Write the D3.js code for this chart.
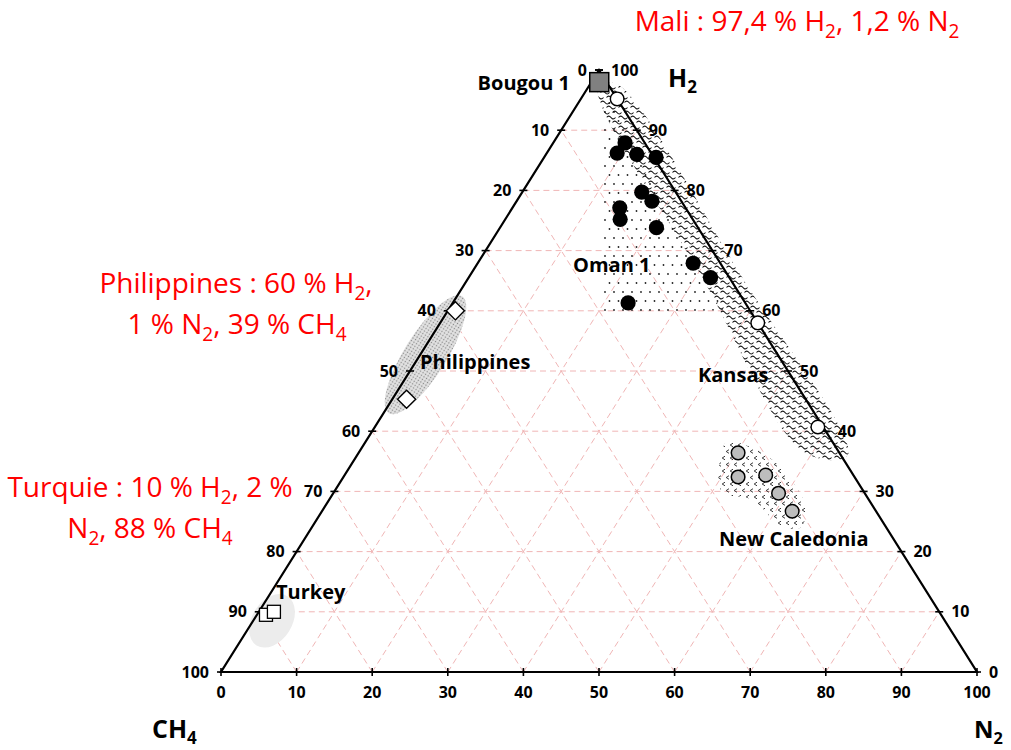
<!DOCTYPE html>
<html>
<head>
<meta charset="utf-8">
<script src="https://cdn.jsdelivr.net/npm/d3@7"></script>
<style>
  html, body { margin: 0; padding: 0; background: #fff; }
  svg { display: block; }
</style>
</head>
<body>
<svg id="chart" width="1011" height="750"></svg>
<script>
// Ternary diagram H2 – N2 – CH4 of natural hydrogen occurrences.
// Every composition is given as [H2 %, N2 %]; CH4 is the remainder to 100 %.

const tickValues = [0, 10, 20, 30, 40, 50, 60, 70, 80, 90, 100];
const gridValues = [10, 20, 30, 40, 50, 60, 70, 80, 90];

// Samples
const bougouSample = [[97.4, 1.2]];
const omanSamples = [
  [87.9, 9.5], [86.2, 9.3], [86.0, 12.0], [85.5, 14.8],
  [79.7, 15.8], [78.2, 17.9], [77.1, 14.2], [75.2, 15.2],
  [73.8, 20.7], [67.9, 28.5], [65.5, 32.0], [61.3, 23.2]
];
const kansasSamples = [[95.2, 4.8], [58.0, 42.0], [40.7, 58.6]];
const caledoniaSamples = [[36.4, 50.2], [32.4, 52.2], [32.7, 55.7], [29.7, 58.9], [26.7, 62.2]];
const philippinesSamples = [[60.0, 1.0], [45.3, 1.9]];
const turkeySamples = [[9.5, 1.2], [10.0, 2.0]];

// Outlines of the sample fields
const omanField = [[95.0, 3.0], [95.7, 3.5], [60.1, 36.5], [59.6, 20.7]];
const kansasField = [[97.0, 1.4], [97.7, 3.4], [65.1, 36.6], [36.0, 64.9], [36.5, 58.9], [65.1, 31.3]];
const caledoniaField = [
  [38.2, 47.8], [37.4, 51.3], [34.4, 56.5], [27.2, 63.8], [23.9, 64.6],
  [24.4, 61.7], [28.6, 56.0], [29.9, 51.3], [35.2, 48.4]
];
const philippinesFieldCenter = [52.7, 0.7];
const turkeyFieldCenter = [8.5, 2.5];

const svg = d3.select("#chart");

// Position scales: x follows N2 + H2/2, y follows H2.
const x = d3.scaleLinear().domain([0, 100]).range([221, 977]);
const y = d3.scaleLinear().domain([0, 100]).range([672, 70]);
const pt = (h2, n2) => [x(n2 + h2 / 2), y(h2)];

const tickFont = "'Liberation Sans Narrow', 'Arial Narrow', 'Open Sans', sans-serif";
const labelFont = "'Open Sans', 'DejaVu Sans', sans-serif";

// ---- patterns ----
const defs = svg.append("defs");

const pDots = defs.append("pattern").attr("id", "oman-dots")
  .attr("patternUnits", "userSpaceOnUse").attr("width", 9).attr("height", 18);
pDots.append("circle").attr("cx", 2).attr("cy", 4).attr("r", 0.9).attr("fill", "#222");
pDots.append("circle").attr("cx", 6.5).attr("cy", 13).attr("r", 0.9).attr("fill", "#222");

const pWave = defs.append("pattern").attr("id", "kansas-waves")
  .attr("patternUnits", "userSpaceOnUse").attr("width", 12).attr("height", 10);
pWave.append("path").attr("d", "M0.5,2.5 C2,0.6 3.5,0.6 5,2.5 S8,4.4 9.5,2.5")
  .attr("fill", "none").attr("stroke", "#111").attr("stroke-width", 1.1);
pWave.append("path").attr("d", "M-5.5,7.5 C-4,5.6 -2.5,5.6 -1,7.5 S2,9.4 3.5,7.5 M6.5,7.5 C8,5.6 9.5,5.6 11,7.5 S14,9.4 15.5,7.5")
  .attr("fill", "none").attr("stroke", "#111").attr("stroke-width", 1.1);

const pChev = defs.append("pattern").attr("id", "caledonia-chevrons")
  .attr("patternUnits", "userSpaceOnUse").attr("width", 8).attr("height", 13);
pChev.append("path").attr("d", "M5,1.2 L2.2,3 L5,4.8").attr("fill", "none")
  .attr("stroke", "#222").attr("stroke-width", 0.9);
pChev.append("path").attr("d", "M9,7.7 L6.2,9.5 L9,11.3 M1,7.7 L-1.8,9.5 L1,11.3").attr("fill", "none")
  .attr("stroke", "#222").attr("stroke-width", 0.9);

const pFine = defs.append("pattern").attr("id", "philippines-dots")
  .attr("patternUnits", "userSpaceOnUse").attr("width", 3).attr("height", 3);
pFine.append("rect").attr("width", 3).attr("height", 3).attr("fill", "#e2e2e2");
pFine.append("circle").attr("cx", 1.5).attr("cy", 1.5).attr("r", 0.75).attr("fill", "#858585");

// ---- grid ----
const gridG = svg.append("g").attr("stroke", "#f0b6b6").attr("stroke-width", 1)
  .attr("stroke-dasharray", "6,4").attr("fill", "none");
gridValues.forEach(v => {
  const lines = [
    [pt(v, 0), pt(v, 100 - v)],          // constant H2
    [pt(0, v), pt(100 - v, v)],          // constant N2
    [pt(0, 100 - v), pt(100 - v, 0)]     // constant CH4
  ];
  lines.forEach(l => gridG.append("line")
    .attr("x1", l[0][0]).attr("y1", l[0][1]).attr("x2", l[1][0]).attr("y2", l[1][1]));
});

// ---- sample fields ----
const edgeAngle = Math.atan2(y(100) - y(0), x(50) - x(0)) * 180 / Math.PI;

const tc = pt(turkeyFieldCenter[0], turkeyFieldCenter[1]);
svg.append("ellipse").attr("cx", 0).attr("cy", 0).attr("rx", 29).attr("ry", 20)
  .attr("transform", `translate(${tc[0]},${tc[1]}) rotate(${edgeAngle})`)
  .attr("fill", "#ececec");

const pc = pt(philippinesFieldCenter[0], philippinesFieldCenter[1]);
svg.append("ellipse").attr("cx", 0).attr("cy", 0).attr("rx", 69).attr("ry", 21)
  .attr("transform", `translate(${pc[0]},${pc[1]}) rotate(${edgeAngle})`)
  .attr("fill", "url(#philippines-dots)");

const field = d3.line().curve(d3.curveLinearClosed);
const smoothField = d3.line().curve(d3.curveCatmullRomClosed.alpha(0.5));

svg.append("path").attr("d", field(omanField.map(d => pt(d[0], d[1]))))
  .attr("fill", "url(#oman-dots)");
svg.append("path").attr("d", smoothField(kansasField.map(d => pt(d[0], d[1]))))
  .attr("fill", "url(#kansas-waves)");
svg.append("path").attr("d", smoothField(caledoniaField.map(d => pt(d[0], d[1]))))
  .attr("fill", "url(#caledonia-chevrons)");

// ---- triangle frame ----
const A = pt(100, 0), L = pt(0, 0), R = pt(0, 100);
svg.append("path").attr("d", `M${A[0]},${A[1]} L${L[0]},${L[1]} L${R[0]},${R[1]} Z`)
  .attr("fill", "none").attr("stroke", "#000").attr("stroke-width", 2.2)
  .attr("stroke-linejoin", "miter");

// ---- ticks and tick labels ----
const tickG = svg.append("g").attr("stroke", "#000").attr("stroke-width", 1.6);
const tickText = svg.append("g").attr("font-family", tickFont).attr("font-weight", "bold")
  .attr("font-size", 16).attr("fill", "#000");

tickValues.forEach(v => {
  // left edge: CH4
  const l = pt(100 - v, 0);
  tickG.append("line").attr("x1", l[0] - 4).attr("x2", l[0] + 4).attr("y1", l[1]).attr("y2", l[1]);
  tickText.append("text").attr("x", l[0] - 12).attr("y", l[1]).attr("dy", "0.35em")
    .attr("text-anchor", "end").text(v);
  // right edge: H2
  const r = pt(v, 100 - v);
  tickG.append("line").attr("x1", r[0] - 4).attr("x2", r[0] + 4).attr("y1", r[1]).attr("y2", r[1]);
  tickText.append("text").attr("x", r[0] + 12).attr("y", r[1]).attr("dy", "0.35em")
    .attr("text-anchor", "start").text(v);
  // base: N2
  const b = pt(0, v);
  tickG.append("line").attr("x1", b[0]).attr("x2", b[0]).attr("y1", b[1] - 4).attr("y2", b[1] + 4);
  tickText.append("text").attr("x", b[0]).attr("y", b[1] + 20).attr("dy", "0.35em")
    .attr("text-anchor", "middle").text(v);
});

// ---- samples ----
const P = d => pt(d[0], d[1]);

svg.append("g").selectAll("rect").data(turkeySamples).join("rect")
  .attr("x", d => P(d)[0] - 6.5).attr("y", d => P(d)[1] - 6.5)
  .attr("width", 13).attr("height", 13)
  .attr("fill", "#fff").attr("stroke", "#000").attr("stroke-width", 1.3);

svg.append("g").selectAll("path").data(philippinesSamples).join("path")
  .attr("d", d3.symbol(d3.symbolDiamond2, 210))
  .attr("transform", d => `translate(${P(d)[0]},${P(d)[1]})`)
  .attr("fill", "#fff").attr("stroke", "#000").attr("stroke-width", 1.4);

svg.append("g").selectAll("circle").data(omanSamples).join("circle")
  .attr("cx", d => P(d)[0]).attr("cy", d => P(d)[1]).attr("r", 7.6)
  .attr("fill", "#000");

svg.append("g").selectAll("circle").data(kansasSamples).join("circle")
  .attr("cx", d => P(d)[0]).attr("cy", d => P(d)[1]).attr("r", 6.8)
  .attr("fill", "#fff").attr("stroke", "#000").attr("stroke-width", 1.4);

svg.append("g").selectAll("circle").data(caledoniaSamples).join("circle")
  .attr("cx", d => P(d)[0]).attr("cy", d => P(d)[1]).attr("r", 6.8)
  .attr("fill", "#bdbdbd").attr("stroke", "#000").attr("stroke-width", 1.5);

svg.append("g").selectAll("rect").data(bougouSample).join("rect")
  .attr("x", d => P(d)[0] - 8.5).attr("y", d => P(d)[1] - 13)
  .attr("width", 19).attr("height", 19)
  .attr("fill", "#808080").attr("stroke", "#000").attr("stroke-width", 1.5);

// ---- text helper: plain strings and {sub: "..."} subscripts ----
function rich(g, xPos, yPos, parts, opts) {
  const t = g.append("text").attr("x", xPos).attr("y", yPos)
    .attr("text-anchor", opts.anchor || "start")
    .attr("font-family", labelFont).attr("font-size", opts.size)
    .attr("font-weight", opts.weight || "normal").attr("fill", opts.color || "#000");
  const shift = opts.size * 0.25;
  let lowered = false;
  parts.forEach(p => {
    if (typeof p === "string") {
      const s = t.append("tspan").text(p);
      if (lowered) { s.attr("dy", -shift); lowered = false; }
    } else {
      t.append("tspan").attr("dy", shift).attr("font-size", opts.size * 0.68).text(p.sub);
      lowered = true;
    }
  });
  return t;
}

const textG = svg.append("g");

// field names
const fieldLabels = [
  { text: "Bougou 1", x: 570, y: 90, anchor: "end" },
  { text: "Oman 1", x: 573, y: 272, anchor: "start" },
  { text: "Philippines", x: 420, y: 369, anchor: "start" },
  { text: "Kansas", x: 698, y: 382, anchor: "start" },
  { text: "New Caledonia", x: 719, y: 546, anchor: "start" },
  { text: "Turkey", x: 276, y: 599, anchor: "start" }
];
fieldLabels.forEach(f => rich(textG, f.x, f.y, [f.text], { size: 20, weight: "bold", anchor: f.anchor }));

// vertex names
rich(textG, 668, 87, ["H", { sub: "2" }], { size: 25, weight: "bold" });
rich(textG, 152, 738, ["CH", { sub: "4" }], { size: 25, weight: "bold" });
rich(textG, 974, 738, ["N", { sub: "2" }], { size: 24, weight: "bold" });

// compositions of the reference samples
const red = { size: 28, color: "#ff0000", anchor: "middle" };
rich(textG, 797, 31, ["Mali : 97,4 % H", { sub: "2" }, ", 1,2 % N", { sub: "2" }], red);
rich(textG, 236, 293, ["Philippines : 60 % H", { sub: "2" }, ","], red);
rich(textG, 237, 334, ["1 % N", { sub: "2" }, ", 39 % CH", { sub: "4" }], red);
rich(textG, 150, 497, ["Turquie : 10 % H", { sub: "2" }, ", 2 %"], red);
rich(textG, 150, 538, ["N", { sub: "2" }, ", 88 % CH", { sub: "4" }], red);
</script>
</body>
</html>
